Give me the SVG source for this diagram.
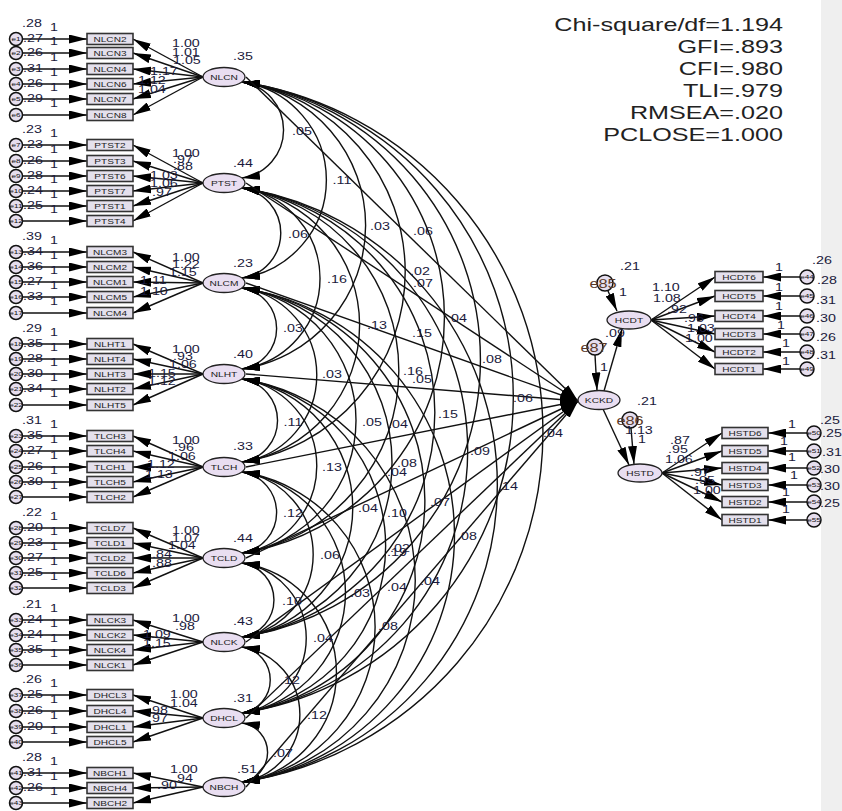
<svg xmlns="http://www.w3.org/2000/svg" width="842" height="811" viewBox="0 0 842 811">
<style>
.b{fill:#e4e0ec;stroke:#333;stroke-width:1.6}
.c{fill:#e6deee;stroke:#111;stroke-width:1.5}
.f{fill:#e9def1;stroke:#222;stroke-width:1.3}
.ar{stroke:#111;stroke-width:1.4;fill:none;marker-end:url(#a)}
.cv{stroke:#111;stroke-width:1.4;fill:none;marker-start:url(#a);marker-end:url(#a)}
.n{font:10.5px "Liberation Sans",Arial,sans-serif;fill:#1a1a3c}
.m{font:10.5px "Liberation Sans",Arial,sans-serif;fill:#1a1a3c;text-anchor:middle}
.bt{font:7.4px "Liberation Sans",Arial,sans-serif;fill:#222;text-anchor:middle}
.ct{font:6px "Liberation Sans",Arial,sans-serif;fill:#111;text-anchor:middle}
.ft{font:7.5px "Liberation Sans",Arial,sans-serif;fill:#222;text-anchor:middle}
.dt{font:12px "Liberation Sans",Arial,sans-serif;fill:#5a3a2a;text-anchor:middle}
.st{font:18.5px "Liberation Sans",Arial,sans-serif;fill:#222;text-anchor:end}
</style>
<defs>
<marker id="a" viewBox="0 0 18 9" refX="18" refY="4.5" markerWidth="18" markerHeight="9" markerUnits="userSpaceOnUse" orient="auto-start-reverse"><path d="M0,0L18,4.5L0,9z" fill="#000"/></marker>
</defs>
<rect x="821" y="0" width="21" height="811" fill="#efefef"/>
<g id="connectors">
<line class="ar" x1="22.5" y1="39" x2="87" y2="39"/><line class="ar" x1="22.5" y1="53" x2="87" y2="53"/><line class="ar" x1="22.5" y1="69" x2="87" y2="69"/><line class="ar" x1="22.5" y1="84" x2="87" y2="84"/><line class="ar" x1="22.5" y1="99" x2="87" y2="99"/><line class="ar" x1="22.5" y1="115" x2="87" y2="115"/>
<line class="ar" x1="22.5" y1="145" x2="87" y2="145"/><line class="ar" x1="22.5" y1="161" x2="87" y2="161"/><line class="ar" x1="22.5" y1="176" x2="87" y2="176"/><line class="ar" x1="22.5" y1="191" x2="87" y2="191"/><line class="ar" x1="22.5" y1="206" x2="87" y2="206"/><line class="ar" x1="22.5" y1="221" x2="87" y2="221"/>
<line class="ar" x1="22.5" y1="252" x2="87" y2="252"/><line class="ar" x1="22.5" y1="267" x2="87" y2="267"/><line class="ar" x1="22.5" y1="282" x2="87" y2="282"/><line class="ar" x1="22.5" y1="297" x2="87" y2="297"/><line class="ar" x1="22.5" y1="313" x2="87" y2="313"/>
<line class="ar" x1="22.5" y1="344" x2="87" y2="344"/><line class="ar" x1="22.5" y1="359" x2="87" y2="359"/><line class="ar" x1="22.5" y1="374" x2="87" y2="374"/><line class="ar" x1="22.5" y1="389" x2="87" y2="389"/><line class="ar" x1="22.5" y1="405" x2="87" y2="405"/>
<line class="ar" x1="22.5" y1="436" x2="87" y2="436"/><line class="ar" x1="22.5" y1="451" x2="87" y2="451"/><line class="ar" x1="22.5" y1="467" x2="87" y2="467"/><line class="ar" x1="22.5" y1="482" x2="87" y2="482"/><line class="ar" x1="22.5" y1="497" x2="87" y2="497"/>
<line class="ar" x1="22.5" y1="528" x2="87" y2="528"/><line class="ar" x1="22.5" y1="543" x2="87" y2="543"/><line class="ar" x1="22.5" y1="558" x2="87" y2="558"/><line class="ar" x1="22.5" y1="573" x2="87" y2="573"/><line class="ar" x1="22.5" y1="588" x2="87" y2="588"/>
<line class="ar" x1="22.5" y1="620" x2="87" y2="620"/><line class="ar" x1="22.5" y1="635" x2="87" y2="635"/><line class="ar" x1="22.5" y1="650" x2="87" y2="650"/><line class="ar" x1="22.5" y1="665" x2="87" y2="665"/>
<line class="ar" x1="22.5" y1="695" x2="87" y2="695"/><line class="ar" x1="22.5" y1="711" x2="87" y2="711"/><line class="ar" x1="22.5" y1="727" x2="87" y2="727"/><line class="ar" x1="22.5" y1="742" x2="87" y2="742"/>
<line class="ar" x1="22.5" y1="773" x2="87" y2="773"/><line class="ar" x1="22.5" y1="788" x2="87" y2="788"/><line class="ar" x1="22.5" y1="803" x2="87" y2="803"/>
<line class="ar" x1="203" y1="77" x2="133" y2="39"/><line class="ar" x1="203" y1="77" x2="133" y2="53"/><line class="ar" x1="203" y1="77" x2="133" y2="69"/><line class="ar" x1="203" y1="77" x2="133" y2="84"/><line class="ar" x1="203" y1="77" x2="133" y2="99"/><line class="ar" x1="203" y1="77" x2="133" y2="115"/>
<line class="ar" x1="203" y1="183" x2="133" y2="145"/><line class="ar" x1="203" y1="183" x2="133" y2="161"/><line class="ar" x1="203" y1="183" x2="133" y2="176"/><line class="ar" x1="203" y1="183" x2="133" y2="191"/><line class="ar" x1="203" y1="183" x2="133" y2="206"/><line class="ar" x1="203" y1="183" x2="133" y2="221"/>
<line class="ar" x1="203" y1="283" x2="133" y2="252"/><line class="ar" x1="203" y1="283" x2="133" y2="267"/><line class="ar" x1="203" y1="283" x2="133" y2="282"/><line class="ar" x1="203" y1="283" x2="133" y2="297"/><line class="ar" x1="203" y1="283" x2="133" y2="313"/>
<line class="ar" x1="203" y1="374" x2="133" y2="344"/><line class="ar" x1="203" y1="374" x2="133" y2="359"/><line class="ar" x1="203" y1="374" x2="133" y2="374"/><line class="ar" x1="203" y1="374" x2="133" y2="389"/><line class="ar" x1="203" y1="374" x2="133" y2="405"/>
<line class="ar" x1="203" y1="467" x2="133" y2="436"/><line class="ar" x1="203" y1="467" x2="133" y2="451"/><line class="ar" x1="203" y1="467" x2="133" y2="467"/><line class="ar" x1="203" y1="467" x2="133" y2="482"/><line class="ar" x1="203" y1="467" x2="133" y2="497"/>
<line class="ar" x1="203" y1="558" x2="133" y2="528"/><line class="ar" x1="203" y1="558" x2="133" y2="543"/><line class="ar" x1="203" y1="558" x2="133" y2="558"/><line class="ar" x1="203" y1="558" x2="133" y2="573"/><line class="ar" x1="203" y1="558" x2="133" y2="588"/>
<line class="ar" x1="203" y1="642" x2="133" y2="620"/><line class="ar" x1="203" y1="642" x2="133" y2="635"/><line class="ar" x1="203" y1="642" x2="133" y2="650"/><line class="ar" x1="203" y1="642" x2="133" y2="665"/>
<line class="ar" x1="203" y1="718" x2="133" y2="695"/><line class="ar" x1="203" y1="718" x2="133" y2="711"/><line class="ar" x1="203" y1="718" x2="133" y2="727"/><line class="ar" x1="203" y1="718" x2="133" y2="742"/>
<line class="ar" x1="203" y1="787" x2="133" y2="773"/><line class="ar" x1="203" y1="787" x2="133" y2="788"/><line class="ar" x1="203" y1="787" x2="133" y2="803"/>
<path class="cv" d="M242,82A48.5,48.5 0 0 1 242,178"/>
<path class="cv" d="M242,82A99.1,99.1 0 0 1 242,278"/>
<path class="cv" d="M242,82A145.1,145.1 0 0 1 242,369"/>
<path class="cv" d="M242,82A192.2,192.2 0 0 1 242,462"/>
<path class="cv" d="M242,82A238.2,238.2 0 0 1 242,553"/>
<path class="cv" d="M242,82A280.7,280.7 0 0 1 242,637"/>
<path class="cv" d="M242,82A319.1,319.1 0 0 1 242,713"/>
<path class="cv" d="M242,82A354,354 0 0 1 242,782"/>
<path class="cv" d="M242,188A45.5,45.5 0 0 1 242,278"/>
<path class="cv" d="M242,188A91.5,91.5 0 0 1 242,369"/>
<path class="cv" d="M242,188A138.6,138.6 0 0 1 242,462"/>
<path class="cv" d="M242,188A184.6,184.6 0 0 1 242,553"/>
<path class="cv" d="M242,188A227.1,227.1 0 0 1 242,637"/>
<path class="cv" d="M242,188A265.5,265.5 0 0 1 242,713"/>
<path class="cv" d="M242,188A300.4,300.4 0 0 1 242,782"/>
<path class="cv" d="M242,288A41,41 0 0 1 242,369"/>
<path class="cv" d="M242,288A88,88 0 0 1 242,462"/>
<path class="cv" d="M242,288A134,134 0 0 1 242,553"/>
<path class="cv" d="M242,288A176.5,176.5 0 0 1 242,637"/>
<path class="cv" d="M242,288A214.9,214.9 0 0 1 242,713"/>
<path class="cv" d="M242,288A249.8,249.8 0 0 1 242,782"/>
<path class="cv" d="M242,379A42,42 0 0 1 242,462"/>
<path class="cv" d="M242,379A88,88 0 0 1 242,553"/>
<path class="cv" d="M242,379A130.5,130.5 0 0 1 242,637"/>
<path class="cv" d="M242,379A168.9,168.9 0 0 1 242,713"/>
<path class="cv" d="M242,379A203.8,203.8 0 0 1 242,782"/>
<path class="cv" d="M242,472A41,41 0 0 1 242,553"/>
<path class="cv" d="M242,472A83.4,83.4 0 0 1 242,637"/>
<path class="cv" d="M242,472A121.9,121.9 0 0 1 242,713"/>
<path class="cv" d="M242,472A156.8,156.8 0 0 1 242,782"/>
<path class="cv" d="M242,563A37.4,37.4 0 0 1 242,637"/>
<path class="cv" d="M242,563A75.9,75.9 0 0 1 242,713"/>
<path class="cv" d="M242,563A110.7,110.7 0 0 1 242,782"/>
<path class="cv" d="M242,647A33.4,33.4 0 0 1 242,713"/>
<path class="cv" d="M242,647A68.3,68.3 0 0 1 242,782"/>
<path class="cv" d="M242,723A29.8,29.8 0 0 1 242,782"/>
<line class="ar" x1="246" y1="77" x2="578" y2="401"/>
<line class="ar" x1="246" y1="183" x2="578" y2="401"/>
<line class="ar" x1="246" y1="283" x2="578" y2="401"/>
<line class="ar" x1="246" y1="374" x2="578" y2="401"/>
<line class="ar" x1="246" y1="467" x2="578" y2="401"/>
<line class="ar" x1="246" y1="558" x2="578" y2="401"/>
<line class="ar" x1="246" y1="642" x2="578" y2="401"/>
<line class="ar" x1="246" y1="718" x2="578" y2="401"/>
<line class="ar" x1="246" y1="787" x2="578" y2="401"/>
<line class="ar" x1="608" y1="291" x2="617" y2="311"/>
<line class="ar" x1="595" y1="355" x2="597" y2="390.5"/>
<line class="ar" x1="604" y1="391" x2="622" y2="329"/>
<line class="ar" x1="603" y1="409" x2="629" y2="465"/>
<line class="ar" x1="631" y1="428" x2="634" y2="464"/>
<line class="ar" x1="651" y1="320" x2="715" y2="277"/><line class="ar" x1="651" y1="320" x2="715" y2="296"/><line class="ar" x1="651" y1="320" x2="715" y2="316"/><line class="ar" x1="651" y1="320" x2="715" y2="334"/><line class="ar" x1="651" y1="320" x2="715" y2="352"/><line class="ar" x1="651" y1="320" x2="715" y2="369"/>
<line class="ar" x1="800" y1="277" x2="763" y2="277"/><line class="ar" x1="800" y1="296" x2="763" y2="296"/><line class="ar" x1="800" y1="316" x2="763" y2="316"/><line class="ar" x1="800" y1="334" x2="763" y2="334"/><line class="ar" x1="800" y1="352" x2="763" y2="352"/><line class="ar" x1="800" y1="369" x2="763" y2="369"/>
<line class="ar" x1="662" y1="473" x2="722" y2="433"/><line class="ar" x1="662" y1="473" x2="722" y2="451"/><line class="ar" x1="662" y1="473" x2="722" y2="468"/><line class="ar" x1="662" y1="473" x2="722" y2="485"/><line class="ar" x1="662" y1="473" x2="722" y2="502"/><line class="ar" x1="662" y1="473" x2="722" y2="520"/>
<line class="ar" x1="807" y1="433" x2="768" y2="433"/><line class="ar" x1="807" y1="451" x2="768" y2="451"/><line class="ar" x1="807" y1="468" x2="768" y2="468"/><line class="ar" x1="807" y1="485" x2="768" y2="485"/><line class="ar" x1="807" y1="502" x2="768" y2="502"/><line class="ar" x1="807" y1="520" x2="768" y2="520"/>
</g>
<g id="NLCN"><ellipse class="f" cx="224" cy="77" rx="21" ry="9.5"/><text class="ft" transform="matrix(1.36 0 0 1 224 79.7)">NLCN</text></g>
<g id="PTST"><ellipse class="f" cx="224" cy="183" rx="21" ry="9.5"/><text class="ft" transform="matrix(1.36 0 0 1 224 185.7)">PTST</text></g>
<g id="NLCM"><ellipse class="f" cx="224" cy="283" rx="21" ry="9.5"/><text class="ft" transform="matrix(1.36 0 0 1 224 285.7)">NLCM</text></g>
<g id="NLHT"><ellipse class="f" cx="224" cy="374" rx="21" ry="9.5"/><text class="ft" transform="matrix(1.36 0 0 1 224 376.7)">NLHT</text></g>
<g id="TLCH"><ellipse class="f" cx="224" cy="467" rx="21" ry="9.5"/><text class="ft" transform="matrix(1.36 0 0 1 224 469.7)">TLCH</text></g>
<g id="TCLD"><ellipse class="f" cx="224" cy="558" rx="21" ry="9.5"/><text class="ft" transform="matrix(1.36 0 0 1 224 560.7)">TCLD</text></g>
<g id="NLCK"><ellipse class="f" cx="224" cy="642" rx="21" ry="9.5"/><text class="ft" transform="matrix(1.36 0 0 1 224 644.7)">NLCK</text></g>
<g id="DHCL"><ellipse class="f" cx="224" cy="718" rx="21" ry="9.5"/><text class="ft" transform="matrix(1.36 0 0 1 224 720.7)">DHCL</text></g>
<g id="NBCH"><ellipse class="f" cx="224" cy="787" rx="21" ry="9.5"/><text class="ft" transform="matrix(1.36 0 0 1 224 789.7)">NBCH</text></g>
<g id="KCKD"><ellipse class="f" cx="599" cy="400" rx="21" ry="9.5"/><text class="ft" transform="matrix(1.36 0 0 1 599 402.7)">KCKD</text></g>
<g id="HCDT"><ellipse class="f" cx="629" cy="320" rx="22" ry="9"/><text class="ft" transform="matrix(1.36 0 0 1 629 322.7)">HCDT</text></g>
<g id="HSTD"><ellipse class="f" cx="640" cy="473" rx="22" ry="9"/><text class="ft" transform="matrix(1.36 0 0 1 640 475.7)">HSTD</text></g>
<g id="e85"><circle class="c" cx="605" cy="283" r="8"/><text class="dt" transform="matrix(1.36 0 0 1 603 288)">e85</text></g>
<g id="e87"><circle class="c" cx="595" cy="347" r="8"/><text class="dt" transform="matrix(1.36 0 0 1 594 352)">e87</text></g>
<g id="e86"><circle class="c" cx="630" cy="420" r="8"/><text class="dt" transform="matrix(1.36 0 0 1 630 425)">e86</text></g>
<g id="NLCN2"><rect class="b" x="87" y="33.5" width="46" height="11"/><text class="bt" transform="matrix(1.36 0 0 1 110 41.5)">NLCN2</text></g>
<g id="NLCN3"><rect class="b" x="87" y="47.5" width="46" height="11"/><text class="bt" transform="matrix(1.36 0 0 1 110 55.5)">NLCN3</text></g>
<g id="NLCN4"><rect class="b" x="87" y="63.5" width="46" height="11"/><text class="bt" transform="matrix(1.36 0 0 1 110 71.5)">NLCN4</text></g>
<g id="NLCN6"><rect class="b" x="87" y="78.5" width="46" height="11"/><text class="bt" transform="matrix(1.36 0 0 1 110 86.5)">NLCN6</text></g>
<g id="NLCN7"><rect class="b" x="87" y="93.5" width="46" height="11"/><text class="bt" transform="matrix(1.36 0 0 1 110 101.5)">NLCN7</text></g>
<g id="NLCN8"><rect class="b" x="87" y="109.5" width="46" height="11"/><text class="bt" transform="matrix(1.36 0 0 1 110 117.5)">NLCN8</text></g>
<g id="PTST2"><rect class="b" x="87" y="139.5" width="46" height="11"/><text class="bt" transform="matrix(1.36 0 0 1 110 147.5)">PTST2</text></g>
<g id="PTST3"><rect class="b" x="87" y="155.5" width="46" height="11"/><text class="bt" transform="matrix(1.36 0 0 1 110 163.5)">PTST3</text></g>
<g id="PTST6"><rect class="b" x="87" y="170.5" width="46" height="11"/><text class="bt" transform="matrix(1.36 0 0 1 110 178.5)">PTST6</text></g>
<g id="PTST7"><rect class="b" x="87" y="185.5" width="46" height="11"/><text class="bt" transform="matrix(1.36 0 0 1 110 193.5)">PTST7</text></g>
<g id="PTST1"><rect class="b" x="87" y="200.5" width="46" height="11"/><text class="bt" transform="matrix(1.36 0 0 1 110 208.5)">PTST1</text></g>
<g id="PTST4"><rect class="b" x="87" y="215.5" width="46" height="11"/><text class="bt" transform="matrix(1.36 0 0 1 110 223.5)">PTST4</text></g>
<g id="NLCM3"><rect class="b" x="87" y="246.5" width="46" height="11"/><text class="bt" transform="matrix(1.36 0 0 1 110 254.5)">NLCM3</text></g>
<g id="NLCM2"><rect class="b" x="87" y="261.5" width="46" height="11"/><text class="bt" transform="matrix(1.36 0 0 1 110 269.5)">NLCM2</text></g>
<g id="NLCM1"><rect class="b" x="87" y="276.5" width="46" height="11"/><text class="bt" transform="matrix(1.36 0 0 1 110 284.5)">NLCM1</text></g>
<g id="NLCM5"><rect class="b" x="87" y="291.5" width="46" height="11"/><text class="bt" transform="matrix(1.36 0 0 1 110 299.5)">NLCM5</text></g>
<g id="NLCM4"><rect class="b" x="87" y="307.5" width="46" height="11"/><text class="bt" transform="matrix(1.36 0 0 1 110 315.5)">NLCM4</text></g>
<g id="NLHT1"><rect class="b" x="87" y="338.5" width="46" height="11"/><text class="bt" transform="matrix(1.36 0 0 1 110 346.5)">NLHT1</text></g>
<g id="NLHT4"><rect class="b" x="87" y="353.5" width="46" height="11"/><text class="bt" transform="matrix(1.36 0 0 1 110 361.5)">NLHT4</text></g>
<g id="NLHT3"><rect class="b" x="87" y="368.5" width="46" height="11"/><text class="bt" transform="matrix(1.36 0 0 1 110 376.5)">NLHT3</text></g>
<g id="NLHT2"><rect class="b" x="87" y="383.5" width="46" height="11"/><text class="bt" transform="matrix(1.36 0 0 1 110 391.5)">NLHT2</text></g>
<g id="NLHT5"><rect class="b" x="87" y="399.5" width="46" height="11"/><text class="bt" transform="matrix(1.36 0 0 1 110 407.5)">NLHT5</text></g>
<g id="TLCH3"><rect class="b" x="87" y="430.5" width="46" height="11"/><text class="bt" transform="matrix(1.36 0 0 1 110 438.5)">TLCH3</text></g>
<g id="TLCH4"><rect class="b" x="87" y="445.5" width="46" height="11"/><text class="bt" transform="matrix(1.36 0 0 1 110 453.5)">TLCH4</text></g>
<g id="TLCH1"><rect class="b" x="87" y="461.5" width="46" height="11"/><text class="bt" transform="matrix(1.36 0 0 1 110 469.5)">TLCH1</text></g>
<g id="TLCH5"><rect class="b" x="87" y="476.5" width="46" height="11"/><text class="bt" transform="matrix(1.36 0 0 1 110 484.5)">TLCH5</text></g>
<g id="TLCH2"><rect class="b" x="87" y="491.5" width="46" height="11"/><text class="bt" transform="matrix(1.36 0 0 1 110 499.5)">TLCH2</text></g>
<g id="TCLD7"><rect class="b" x="87" y="522.5" width="46" height="11"/><text class="bt" transform="matrix(1.36 0 0 1 110 530.5)">TCLD7</text></g>
<g id="TCLD1"><rect class="b" x="87" y="537.5" width="46" height="11"/><text class="bt" transform="matrix(1.36 0 0 1 110 545.5)">TCLD1</text></g>
<g id="TCLD2"><rect class="b" x="87" y="552.5" width="46" height="11"/><text class="bt" transform="matrix(1.36 0 0 1 110 560.5)">TCLD2</text></g>
<g id="TCLD6"><rect class="b" x="87" y="567.5" width="46" height="11"/><text class="bt" transform="matrix(1.36 0 0 1 110 575.5)">TCLD6</text></g>
<g id="TCLD3"><rect class="b" x="87" y="582.5" width="46" height="11"/><text class="bt" transform="matrix(1.36 0 0 1 110 590.5)">TCLD3</text></g>
<g id="NLCK3"><rect class="b" x="87" y="614.5" width="46" height="11"/><text class="bt" transform="matrix(1.36 0 0 1 110 622.5)">NLCK3</text></g>
<g id="NLCK2"><rect class="b" x="87" y="629.5" width="46" height="11"/><text class="bt" transform="matrix(1.36 0 0 1 110 637.5)">NLCK2</text></g>
<g id="NLCK4"><rect class="b" x="87" y="644.5" width="46" height="11"/><text class="bt" transform="matrix(1.36 0 0 1 110 652.5)">NLCK4</text></g>
<g id="NLCK1"><rect class="b" x="87" y="659.5" width="46" height="11"/><text class="bt" transform="matrix(1.36 0 0 1 110 667.5)">NLCK1</text></g>
<g id="DHCL3"><rect class="b" x="87" y="689.5" width="46" height="11"/><text class="bt" transform="matrix(1.36 0 0 1 110 697.5)">DHCL3</text></g>
<g id="DHCL4"><rect class="b" x="87" y="705.5" width="46" height="11"/><text class="bt" transform="matrix(1.36 0 0 1 110 713.5)">DHCL4</text></g>
<g id="DHCL1"><rect class="b" x="87" y="721.5" width="46" height="11"/><text class="bt" transform="matrix(1.36 0 0 1 110 729.5)">DHCL1</text></g>
<g id="DHCL5"><rect class="b" x="87" y="736.5" width="46" height="11"/><text class="bt" transform="matrix(1.36 0 0 1 110 744.5)">DHCL5</text></g>
<g id="NBCH1"><rect class="b" x="87" y="767.5" width="46" height="11"/><text class="bt" transform="matrix(1.36 0 0 1 110 775.5)">NBCH1</text></g>
<g id="NBCH4"><rect class="b" x="87" y="782.5" width="46" height="11"/><text class="bt" transform="matrix(1.36 0 0 1 110 790.5)">NBCH4</text></g>
<g id="NBCH2"><rect class="b" x="87" y="797.5" width="46" height="11"/><text class="bt" transform="matrix(1.36 0 0 1 110 805.5)">NBCH2</text></g>
<g id="e1"><circle class="c" cx="16" cy="39" r="6.5"/><text class="ct" transform="matrix(1.36 0 0 1 16 41.2)">e1</text></g>
<g id="e2"><circle class="c" cx="16" cy="53" r="6.5"/><text class="ct" transform="matrix(1.36 0 0 1 16 55.2)">e2</text></g>
<g id="e3"><circle class="c" cx="16" cy="69" r="6.5"/><text class="ct" transform="matrix(1.36 0 0 1 16 71.2)">e3</text></g>
<g id="e4"><circle class="c" cx="16" cy="84" r="6.5"/><text class="ct" transform="matrix(1.36 0 0 1 16 86.2)">e4</text></g>
<g id="e5"><circle class="c" cx="16" cy="99" r="6.5"/><text class="ct" transform="matrix(1.36 0 0 1 16 101.2)">e5</text></g>
<g id="e6"><circle class="c" cx="16" cy="115" r="6.5"/><text class="ct" transform="matrix(1.36 0 0 1 16 117.2)">e6</text></g>
<g id="e7"><circle class="c" cx="16" cy="145" r="6.5"/><text class="ct" transform="matrix(1.36 0 0 1 16 147.2)">e7</text></g>
<g id="e8"><circle class="c" cx="16" cy="161" r="6.5"/><text class="ct" transform="matrix(1.36 0 0 1 16 163.2)">e8</text></g>
<g id="e9"><circle class="c" cx="16" cy="176" r="6.5"/><text class="ct" transform="matrix(1.36 0 0 1 16 178.2)">e9</text></g>
<g id="e10"><circle class="c" cx="16" cy="191" r="6.5"/><text class="ct" transform="matrix(1.36 0 0 1 16 193.2)">e10</text></g>
<g id="e11"><circle class="c" cx="16" cy="206" r="6.5"/><text class="ct" transform="matrix(1.36 0 0 1 16 208.2)">e11</text></g>
<g id="e12"><circle class="c" cx="16" cy="221" r="6.5"/><text class="ct" transform="matrix(1.36 0 0 1 16 223.2)">e12</text></g>
<g id="e13"><circle class="c" cx="16" cy="252" r="6.5"/><text class="ct" transform="matrix(1.36 0 0 1 16 254.2)">e13</text></g>
<g id="e14"><circle class="c" cx="16" cy="267" r="6.5"/><text class="ct" transform="matrix(1.36 0 0 1 16 269.2)">e14</text></g>
<g id="e15"><circle class="c" cx="16" cy="282" r="6.5"/><text class="ct" transform="matrix(1.36 0 0 1 16 284.2)">e15</text></g>
<g id="e16"><circle class="c" cx="16" cy="297" r="6.5"/><text class="ct" transform="matrix(1.36 0 0 1 16 299.2)">e16</text></g>
<g id="e17"><circle class="c" cx="16" cy="313" r="6.5"/><text class="ct" transform="matrix(1.36 0 0 1 16 315.2)">e17</text></g>
<g id="e18"><circle class="c" cx="16" cy="344" r="6.5"/><text class="ct" transform="matrix(1.36 0 0 1 16 346.2)">e18</text></g>
<g id="e19"><circle class="c" cx="16" cy="359" r="6.5"/><text class="ct" transform="matrix(1.36 0 0 1 16 361.2)">e19</text></g>
<g id="e20"><circle class="c" cx="16" cy="374" r="6.5"/><text class="ct" transform="matrix(1.36 0 0 1 16 376.2)">e20</text></g>
<g id="e21"><circle class="c" cx="16" cy="389" r="6.5"/><text class="ct" transform="matrix(1.36 0 0 1 16 391.2)">e21</text></g>
<g id="e22"><circle class="c" cx="16" cy="405" r="6.5"/><text class="ct" transform="matrix(1.36 0 0 1 16 407.2)">e22</text></g>
<g id="e23"><circle class="c" cx="16" cy="436" r="6.5"/><text class="ct" transform="matrix(1.36 0 0 1 16 438.2)">e23</text></g>
<g id="e24"><circle class="c" cx="16" cy="451" r="6.5"/><text class="ct" transform="matrix(1.36 0 0 1 16 453.2)">e24</text></g>
<g id="e25"><circle class="c" cx="16" cy="467" r="6.5"/><text class="ct" transform="matrix(1.36 0 0 1 16 469.2)">e25</text></g>
<g id="e26"><circle class="c" cx="16" cy="482" r="6.5"/><text class="ct" transform="matrix(1.36 0 0 1 16 484.2)">e26</text></g>
<g id="e27"><circle class="c" cx="16" cy="497" r="6.5"/><text class="ct" transform="matrix(1.36 0 0 1 16 499.2)">e27</text></g>
<g id="e28"><circle class="c" cx="16" cy="528" r="6.5"/><text class="ct" transform="matrix(1.36 0 0 1 16 530.2)">e28</text></g>
<g id="e29"><circle class="c" cx="16" cy="543" r="6.5"/><text class="ct" transform="matrix(1.36 0 0 1 16 545.2)">e29</text></g>
<g id="e30"><circle class="c" cx="16" cy="558" r="6.5"/><text class="ct" transform="matrix(1.36 0 0 1 16 560.2)">e30</text></g>
<g id="e31"><circle class="c" cx="16" cy="573" r="6.5"/><text class="ct" transform="matrix(1.36 0 0 1 16 575.2)">e31</text></g>
<g id="e32"><circle class="c" cx="16" cy="588" r="6.5"/><text class="ct" transform="matrix(1.36 0 0 1 16 590.2)">e32</text></g>
<g id="e33"><circle class="c" cx="16" cy="620" r="6.5"/><text class="ct" transform="matrix(1.36 0 0 1 16 622.2)">e33</text></g>
<g id="e34"><circle class="c" cx="16" cy="635" r="6.5"/><text class="ct" transform="matrix(1.36 0 0 1 16 637.2)">e34</text></g>
<g id="e35"><circle class="c" cx="16" cy="650" r="6.5"/><text class="ct" transform="matrix(1.36 0 0 1 16 652.2)">e35</text></g>
<g id="e36"><circle class="c" cx="16" cy="665" r="6.5"/><text class="ct" transform="matrix(1.36 0 0 1 16 667.2)">e36</text></g>
<g id="e37"><circle class="c" cx="16" cy="695" r="6.5"/><text class="ct" transform="matrix(1.36 0 0 1 16 697.2)">e37</text></g>
<g id="e38"><circle class="c" cx="16" cy="711" r="6.5"/><text class="ct" transform="matrix(1.36 0 0 1 16 713.2)">e38</text></g>
<g id="e39"><circle class="c" cx="16" cy="727" r="6.5"/><text class="ct" transform="matrix(1.36 0 0 1 16 729.2)">e39</text></g>
<g id="e40"><circle class="c" cx="16" cy="742" r="6.5"/><text class="ct" transform="matrix(1.36 0 0 1 16 744.2)">e40</text></g>
<g id="e41"><circle class="c" cx="16" cy="773" r="6.5"/><text class="ct" transform="matrix(1.36 0 0 1 16 775.2)">e41</text></g>
<g id="e42"><circle class="c" cx="16" cy="788" r="6.5"/><text class="ct" transform="matrix(1.36 0 0 1 16 790.2)">e42</text></g>
<g id="e43"><circle class="c" cx="16" cy="803" r="6.5"/><text class="ct" transform="matrix(1.36 0 0 1 16 805.2)">e43</text></g>
<g id="HCDT6"><rect class="b" x="715" y="271.5" width="48" height="11"/><text class="bt" transform="matrix(1.36 0 0 1 739 279.5)">HCDT6</text></g>
<g id="HCDT5"><rect class="b" x="715" y="290.5" width="48" height="11"/><text class="bt" transform="matrix(1.36 0 0 1 739 298.5)">HCDT5</text></g>
<g id="HCDT4"><rect class="b" x="715" y="310.5" width="48" height="11"/><text class="bt" transform="matrix(1.36 0 0 1 739 318.5)">HCDT4</text></g>
<g id="HCDT3"><rect class="b" x="715" y="328.5" width="48" height="11"/><text class="bt" transform="matrix(1.36 0 0 1 739 336.5)">HCDT3</text></g>
<g id="HCDT2"><rect class="b" x="715" y="346.5" width="48" height="11"/><text class="bt" transform="matrix(1.36 0 0 1 739 354.5)">HCDT2</text></g>
<g id="HCDT1"><rect class="b" x="715" y="363.5" width="48" height="11"/><text class="bt" transform="matrix(1.36 0 0 1 739 371.5)">HCDT1</text></g>
<g id="HSTD6"><rect class="b" x="722" y="427.5" width="46" height="11"/><text class="bt" transform="matrix(1.36 0 0 1 745 435.5)">HSTD6</text></g>
<g id="HSTD5"><rect class="b" x="722" y="445.5" width="46" height="11"/><text class="bt" transform="matrix(1.36 0 0 1 745 453.5)">HSTD5</text></g>
<g id="HSTD4"><rect class="b" x="722" y="462.5" width="46" height="11"/><text class="bt" transform="matrix(1.36 0 0 1 745 470.5)">HSTD4</text></g>
<g id="HSTD3"><rect class="b" x="722" y="479.5" width="46" height="11"/><text class="bt" transform="matrix(1.36 0 0 1 745 487.5)">HSTD3</text></g>
<g id="HSTD2"><rect class="b" x="722" y="496.5" width="46" height="11"/><text class="bt" transform="matrix(1.36 0 0 1 745 504.5)">HSTD2</text></g>
<g id="HSTD1"><rect class="b" x="722" y="514.5" width="46" height="11"/><text class="bt" transform="matrix(1.36 0 0 1 745 522.5)">HSTD1</text></g>
<g id="e44"><circle class="c" cx="807" cy="277" r="7"/><text class="ct" transform="matrix(1.36 0 0 1 807 279.2)">e44</text></g>
<g id="e45"><circle class="c" cx="807" cy="296" r="7"/><text class="ct" transform="matrix(1.36 0 0 1 807 298.2)">e45</text></g>
<g id="e46"><circle class="c" cx="807" cy="316" r="7"/><text class="ct" transform="matrix(1.36 0 0 1 807 318.2)">e46</text></g>
<g id="e47"><circle class="c" cx="807" cy="334" r="7"/><text class="ct" transform="matrix(1.36 0 0 1 807 336.2)">e47</text></g>
<g id="e48"><circle class="c" cx="807" cy="352" r="7"/><text class="ct" transform="matrix(1.36 0 0 1 807 354.2)">e48</text></g>
<g id="e49"><circle class="c" cx="807" cy="369" r="7"/><text class="ct" transform="matrix(1.36 0 0 1 807 371.2)">e49</text></g>
<g id="e50"><circle class="c" cx="814" cy="433" r="7"/><text class="ct" transform="matrix(1.36 0 0 1 814 435.2)">e50</text></g>
<g id="e51"><circle class="c" cx="814" cy="451" r="7"/><text class="ct" transform="matrix(1.36 0 0 1 814 453.2)">e51</text></g>
<g id="e52"><circle class="c" cx="814" cy="468" r="7"/><text class="ct" transform="matrix(1.36 0 0 1 814 470.2)">e52</text></g>
<g id="e53"><circle class="c" cx="814" cy="485" r="7"/><text class="ct" transform="matrix(1.36 0 0 1 814 487.2)">e53</text></g>
<g id="e54"><circle class="c" cx="814" cy="502" r="7"/><text class="ct" transform="matrix(1.36 0 0 1 814 504.2)">e54</text></g>
<g id="e55"><circle class="c" cx="814" cy="520" r="7"/><text class="ct" transform="matrix(1.36 0 0 1 814 522.2)">e55</text></g>
<g id="labels">
<text class="n" transform="matrix(1.36 0 0 1 233 60)">.35</text>
<text class="n" transform="matrix(1.36 0 0 1 233 167)">.44</text>
<text class="n" transform="matrix(1.36 0 0 1 233 267)">.23</text>
<text class="n" transform="matrix(1.36 0 0 1 233 358)">.40</text>
<text class="n" transform="matrix(1.36 0 0 1 233 450)">.33</text>
<text class="n" transform="matrix(1.36 0 0 1 233 542)">.44</text>
<text class="n" transform="matrix(1.36 0 0 1 233 625)">.43</text>
<text class="n" transform="matrix(1.36 0 0 1 233 702)">.31</text>
<text class="n" transform="matrix(1.36 0 0 1 237 773)">.51</text>
<text class="n" transform="matrix(1.36 0 0 1 22 27)">.28</text>
<text class="n" transform="matrix(1.36 0 0 1 23 42)">.27</text><text class="n" transform="matrix(1.36 0 0 1 23 56)">.26</text><text class="n" transform="matrix(1.36 0 0 1 23 72)">.31</text><text class="n" transform="matrix(1.36 0 0 1 23 87)">.26</text><text class="n" transform="matrix(1.36 0 0 1 23 102)">.29</text>
<text class="n" transform="matrix(1.36 0 0 1 22 133)">.23</text>
<text class="n" transform="matrix(1.36 0 0 1 23 148)">.23</text><text class="n" transform="matrix(1.36 0 0 1 23 164)">.26</text><text class="n" transform="matrix(1.36 0 0 1 23 179)">.28</text><text class="n" transform="matrix(1.36 0 0 1 23 194)">.24</text><text class="n" transform="matrix(1.36 0 0 1 23 209)">.25</text>
<text class="n" transform="matrix(1.36 0 0 1 22 240)">.39</text>
<text class="n" transform="matrix(1.36 0 0 1 23 255)">.34</text><text class="n" transform="matrix(1.36 0 0 1 23 270)">.36</text><text class="n" transform="matrix(1.36 0 0 1 23 285)">.27</text><text class="n" transform="matrix(1.36 0 0 1 23 300)">.33</text>
<text class="n" transform="matrix(1.36 0 0 1 22 332)">.29</text>
<text class="n" transform="matrix(1.36 0 0 1 23 347)">.35</text><text class="n" transform="matrix(1.36 0 0 1 23 362)">.28</text><text class="n" transform="matrix(1.36 0 0 1 23 377)">.30</text><text class="n" transform="matrix(1.36 0 0 1 23 392)">.34</text>
<text class="n" transform="matrix(1.36 0 0 1 22 424)">.31</text>
<text class="n" transform="matrix(1.36 0 0 1 23 439)">.35</text><text class="n" transform="matrix(1.36 0 0 1 23 454)">.27</text><text class="n" transform="matrix(1.36 0 0 1 23 470)">.26</text><text class="n" transform="matrix(1.36 0 0 1 23 485)">.30</text>
<text class="n" transform="matrix(1.36 0 0 1 22 516)">.22</text>
<text class="n" transform="matrix(1.36 0 0 1 23 531)">.20</text><text class="n" transform="matrix(1.36 0 0 1 23 546)">.23</text><text class="n" transform="matrix(1.36 0 0 1 23 561)">.27</text><text class="n" transform="matrix(1.36 0 0 1 23 576)">.25</text>
<text class="n" transform="matrix(1.36 0 0 1 22 608)">.21</text>
<text class="n" transform="matrix(1.36 0 0 1 23 623)">.24</text><text class="n" transform="matrix(1.36 0 0 1 23 638)">.24</text><text class="n" transform="matrix(1.36 0 0 1 23 653)">.35</text>
<text class="n" transform="matrix(1.36 0 0 1 22 683)">.26</text>
<text class="n" transform="matrix(1.36 0 0 1 23 698)">.25</text><text class="n" transform="matrix(1.36 0 0 1 23 714)">.26</text><text class="n" transform="matrix(1.36 0 0 1 23 730)">.20</text>
<text class="n" transform="matrix(1.36 0 0 1 22 761)">.28</text>
<text class="n" transform="matrix(1.36 0 0 1 23 776)">.31</text><text class="n" transform="matrix(1.36 0 0 1 23 791)">.26</text>
<text class="n" transform="matrix(1.36 0 0 1 50 31)">1</text><text class="n" transform="matrix(1.36 0 0 1 50 45)">1</text><text class="n" transform="matrix(1.36 0 0 1 50 61)">1</text><text class="n" transform="matrix(1.36 0 0 1 50 76)">1</text><text class="n" transform="matrix(1.36 0 0 1 50 91)">1</text><text class="n" transform="matrix(1.36 0 0 1 50 107)">1</text>
<text class="n" transform="matrix(1.36 0 0 1 50 137)">1</text><text class="n" transform="matrix(1.36 0 0 1 50 153)">1</text><text class="n" transform="matrix(1.36 0 0 1 50 168)">1</text><text class="n" transform="matrix(1.36 0 0 1 50 183)">1</text><text class="n" transform="matrix(1.36 0 0 1 50 198)">1</text><text class="n" transform="matrix(1.36 0 0 1 50 213)">1</text>
<text class="n" transform="matrix(1.36 0 0 1 50 244)">1</text><text class="n" transform="matrix(1.36 0 0 1 50 259)">1</text><text class="n" transform="matrix(1.36 0 0 1 50 274)">1</text><text class="n" transform="matrix(1.36 0 0 1 50 289)">1</text><text class="n" transform="matrix(1.36 0 0 1 50 305)">1</text>
<text class="n" transform="matrix(1.36 0 0 1 50 336)">1</text><text class="n" transform="matrix(1.36 0 0 1 50 351)">1</text><text class="n" transform="matrix(1.36 0 0 1 50 366)">1</text><text class="n" transform="matrix(1.36 0 0 1 50 381)">1</text><text class="n" transform="matrix(1.36 0 0 1 50 397)">1</text>
<text class="n" transform="matrix(1.36 0 0 1 50 428)">1</text><text class="n" transform="matrix(1.36 0 0 1 50 443)">1</text><text class="n" transform="matrix(1.36 0 0 1 50 459)">1</text><text class="n" transform="matrix(1.36 0 0 1 50 474)">1</text><text class="n" transform="matrix(1.36 0 0 1 50 489)">1</text>
<text class="n" transform="matrix(1.36 0 0 1 50 520)">1</text><text class="n" transform="matrix(1.36 0 0 1 50 535)">1</text><text class="n" transform="matrix(1.36 0 0 1 50 550)">1</text><text class="n" transform="matrix(1.36 0 0 1 50 565)">1</text><text class="n" transform="matrix(1.36 0 0 1 50 580)">1</text>
<text class="n" transform="matrix(1.36 0 0 1 50 612)">1</text><text class="n" transform="matrix(1.36 0 0 1 50 627)">1</text><text class="n" transform="matrix(1.36 0 0 1 50 642)">1</text><text class="n" transform="matrix(1.36 0 0 1 50 657)">1</text>
<text class="n" transform="matrix(1.36 0 0 1 50 687)">1</text><text class="n" transform="matrix(1.36 0 0 1 50 703)">1</text><text class="n" transform="matrix(1.36 0 0 1 50 719)">1</text><text class="n" transform="matrix(1.36 0 0 1 50 734)">1</text>
<text class="n" transform="matrix(1.36 0 0 1 50 765)">1</text><text class="n" transform="matrix(1.36 0 0 1 50 780)">1</text><text class="n" transform="matrix(1.36 0 0 1 50 795)">1</text>
<text class="n" transform="matrix(1.36 0 0 1 172 47)">1.00</text><text class="n" transform="matrix(1.36 0 0 1 172 56)">1.01</text><text class="n" transform="matrix(1.36 0 0 1 173 64)">1.05</text><text class="n" transform="matrix(1.36 0 0 1 150 75)">1.17</text><text class="n" transform="matrix(1.36 0 0 1 138 84)">1.12</text><text class="n" transform="matrix(1.36 0 0 1 138 93)">1.04</text>
<text class="n" transform="matrix(1.36 0 0 1 172 157)">1.00</text><text class="n" transform="matrix(1.36 0 0 1 173 163)">.97</text><text class="n" transform="matrix(1.36 0 0 1 173 170)">.88</text><text class="n" transform="matrix(1.36 0 0 1 150 179)">1.03</text><text class="n" transform="matrix(1.36 0 0 1 150 187)">1.06</text><text class="n" transform="matrix(1.36 0 0 1 152 196)">.97</text>
<text class="n" transform="matrix(1.36 0 0 1 172 261)">1.00</text><text class="n" transform="matrix(1.36 0 0 1 172 268)">1.22</text><text class="n" transform="matrix(1.36 0 0 1 169 276)">1.15</text><text class="n" transform="matrix(1.36 0 0 1 140 284)">1.11</text><text class="n" transform="matrix(1.36 0 0 1 140 295)">1.10</text>
<text class="n" transform="matrix(1.36 0 0 1 172 353)">1.00</text><text class="n" transform="matrix(1.36 0 0 1 173 360)">.93</text><text class="n" transform="matrix(1.36 0 0 1 169 368)">1.06</text><text class="n" transform="matrix(1.36 0 0 1 148 377)">1.15</text><text class="n" transform="matrix(1.36 0 0 1 148 385)">1.12</text>
<text class="n" transform="matrix(1.36 0 0 1 172 444)">1.00</text><text class="n" transform="matrix(1.36 0 0 1 174 451)">.96</text><text class="n" transform="matrix(1.36 0 0 1 168 460)">1.06</text><text class="n" transform="matrix(1.36 0 0 1 147 468)">1.12</text><text class="n" transform="matrix(1.36 0 0 1 145 478)">1.13</text>
<text class="n" transform="matrix(1.36 0 0 1 172 534)">1.00</text><text class="n" transform="matrix(1.36 0 0 1 172 542)">1.07</text><text class="n" transform="matrix(1.36 0 0 1 168 549)">1.04</text><text class="n" transform="matrix(1.36 0 0 1 152 558)">.84</text><text class="n" transform="matrix(1.36 0 0 1 152 567)">.88</text>
<text class="n" transform="matrix(1.36 0 0 1 172 622)">1.00</text><text class="n" transform="matrix(1.36 0 0 1 175 630)">.98</text><text class="n" transform="matrix(1.36 0 0 1 143 638)">1.09</text><text class="n" transform="matrix(1.36 0 0 1 143 647)">1.15</text>
<text class="n" transform="matrix(1.36 0 0 1 170 698)">1.00</text><text class="n" transform="matrix(1.36 0 0 1 170 707)">1.04</text><text class="n" transform="matrix(1.36 0 0 1 148 714)">.98</text><text class="n" transform="matrix(1.36 0 0 1 148 722)">.97</text>
<text class="n" transform="matrix(1.36 0 0 1 170 773)">1.00</text><text class="n" transform="matrix(1.36 0 0 1 173 782)">.94</text><text class="n" transform="matrix(1.36 0 0 1 157 789)">.90</text>
<text class="m" transform="matrix(1.36 0 0 1 302 135)">.05</text>
<text class="m" transform="matrix(1.36 0 0 1 342 184)">.11</text>
<text class="m" transform="matrix(1.36 0 0 1 380 230)">.03</text>
<text class="m" transform="matrix(1.36 0 0 1 423 235)">.06</text>
<text class="m" transform="matrix(1.36 0 0 1 298 238)">.06</text>
<text class="m" transform="matrix(1.36 0 0 1 337 283)">.16</text>
<text class="m" transform="matrix(1.36 0 0 1 420 275)">.02</text>
<text class="m" transform="matrix(1.36 0 0 1 423 287)">.07</text>
<text class="m" transform="matrix(1.36 0 0 1 457 322)">.04</text>
<text class="m" transform="matrix(1.36 0 0 1 377 329)">.13</text>
<text class="m" transform="matrix(1.36 0 0 1 293 332)">.03</text>
<text class="m" transform="matrix(1.36 0 0 1 422 337)">.15</text>
<text class="m" transform="matrix(1.36 0 0 1 492 363)">.08</text>
<text class="m" transform="matrix(1.36 0 0 1 332 378)">.03</text>
<text class="m" transform="matrix(1.36 0 0 1 413 375)">.16</text>
<text class="m" transform="matrix(1.36 0 0 1 422 383)">.05</text>
<text class="m" transform="matrix(1.36 0 0 1 523 402)">.06</text>
<text class="m" transform="matrix(1.36 0 0 1 293 426)">.11</text>
<text class="m" transform="matrix(1.36 0 0 1 372 426)">.05</text>
<text class="m" transform="matrix(1.36 0 0 1 398 428)">.04</text>
<text class="m" transform="matrix(1.36 0 0 1 448 418)">.15</text>
<text class="m" transform="matrix(1.36 0 0 1 553 437)">.04</text>
<text class="m" transform="matrix(1.36 0 0 1 480 455)">.09</text>
<text class="m" transform="matrix(1.36 0 0 1 332 471)">.13</text>
<text class="m" transform="matrix(1.36 0 0 1 407 467)">.08</text>
<text class="m" transform="matrix(1.36 0 0 1 397 476)">.04</text>
<text class="m" transform="matrix(1.36 0 0 1 508 490)">.14</text>
<text class="m" transform="matrix(1.36 0 0 1 293 517)">.12</text>
<text class="m" transform="matrix(1.36 0 0 1 368 512)">.04</text>
<text class="m" transform="matrix(1.36 0 0 1 397 517)">.10</text>
<text class="m" transform="matrix(1.36 0 0 1 440 506)">.07</text>
<text class="m" transform="matrix(1.36 0 0 1 330 559)">.06</text>
<text class="m" transform="matrix(1.36 0 0 1 400 552)">.02</text>
<text class="m" transform="matrix(1.36 0 0 1 397 556)">.19</text>
<text class="m" transform="matrix(1.36 0 0 1 467 540)">.08</text>
<text class="m" transform="matrix(1.36 0 0 1 292 605)">.10</text>
<text class="m" transform="matrix(1.36 0 0 1 360 597)">.03</text>
<text class="m" transform="matrix(1.36 0 0 1 397 591)">.04</text>
<text class="m" transform="matrix(1.36 0 0 1 430 585)">.04</text>
<text class="m" transform="matrix(1.36 0 0 1 388 630)">.08</text>
<text class="m" transform="matrix(1.36 0 0 1 323 642)">.04</text>
<text class="m" transform="matrix(1.36 0 0 1 290 684)">.12</text>
<text class="m" transform="matrix(1.36 0 0 1 317 719)">.12</text>
<text class="m" transform="matrix(1.36 0 0 1 283 757)">.07</text>
<text class="n" transform="matrix(1.36 0 0 1 620 270)">.21</text>
<text class="n" transform="matrix(1.36 0 0 1 619 296)">1</text>
<text class="n" transform="matrix(1.36 0 0 1 605 337)">.09</text>
<text class="n" transform="matrix(1.36 0 0 1 600 371)">1</text>
<text class="n" transform="matrix(1.36 0 0 1 637 405)">.21</text>
<text class="n" transform="matrix(1.36 0 0 1 625 434)">1.13</text>
<text class="n" transform="matrix(1.36 0 0 1 638 443)">1</text>
<text class="n" transform="matrix(1.36 0 0 1 652 291)">1.10</text>
<text class="n" transform="matrix(1.36 0 0 1 653 302)">1.08</text>
<text class="n" transform="matrix(1.36 0 0 1 667 313)">.92</text>
<text class="n" transform="matrix(1.36 0 0 1 684 322)">.96</text>
<text class="n" transform="matrix(1.36 0 0 1 687 332)">1.03</text>
<text class="n" transform="matrix(1.36 0 0 1 685 342)">1.00</text>
<text class="n" transform="matrix(1.36 0 0 1 775 271)">1</text><text class="n" transform="matrix(1.36 0 0 1 775 291)">1</text><text class="n" transform="matrix(1.36 0 0 1 775 310)">1</text><text class="n" transform="matrix(1.36 0 0 1 777 329)">1</text><text class="n" transform="matrix(1.36 0 0 1 782 347)">1</text><text class="n" transform="matrix(1.36 0 0 1 782 365)">1</text>
<text class="n" transform="matrix(1.36 0 0 1 812 264)">.26</text><text class="n" transform="matrix(1.36 0 0 1 817 284)">.28</text><text class="n" transform="matrix(1.36 0 0 1 816 304)">.31</text><text class="n" transform="matrix(1.36 0 0 1 816 322)">.30</text><text class="n" transform="matrix(1.36 0 0 1 816 341)">.26</text><text class="n" transform="matrix(1.36 0 0 1 816 359)">.31</text>
<text class="n" transform="matrix(1.36 0 0 1 670 444)">.87</text>
<text class="n" transform="matrix(1.36 0 0 1 668 453)">.95</text>
<text class="n" transform="matrix(1.36 0 0 1 665 463)">1.06</text>
<text class="n" transform="matrix(1.36 0 0 1 690 476)">.97</text>
<text class="n" transform="matrix(1.36 0 0 1 695 484)">.95</text>
<text class="n" transform="matrix(1.36 0 0 1 693 494)">1.00</text>
<text class="n" transform="matrix(1.36 0 0 1 788 428)">1</text><text class="n" transform="matrix(1.36 0 0 1 780 445)">1</text><text class="n" transform="matrix(1.36 0 0 1 788 461)">1</text><text class="n" transform="matrix(1.36 0 0 1 790 479)">1</text><text class="n" transform="matrix(1.36 0 0 1 782 496)">1</text><text class="n" transform="matrix(1.36 0 0 1 782 513)">1</text>
<text class="n" transform="matrix(1.36 0 0 1 820 424)">.25</text><text class="n" transform="matrix(1.36 0 0 1 822 437)">.25</text><text class="n" transform="matrix(1.36 0 0 1 822 456)">.31</text><text class="n" transform="matrix(1.36 0 0 1 820 473)">.30</text><text class="n" transform="matrix(1.36 0 0 1 820 490)">.30</text><text class="n" transform="matrix(1.36 0 0 1 820 507)">.25</text>
</g>
<g id="fit">
<text class="st" transform="matrix(1.36 0 0 1 783 30.5)">Chi-square/df=1.194</text>
<text class="st" transform="matrix(1.36 0 0 1 783 52.5)">GFI=.893</text>
<text class="st" transform="matrix(1.36 0 0 1 783 74.5)">CFI=.980</text>
<text class="st" transform="matrix(1.36 0 0 1 783 96.5)">TLI=.979</text>
<text class="st" transform="matrix(1.36 0 0 1 783 118.5)">RMSEA=.020</text>
<text class="st" transform="matrix(1.36 0 0 1 783 140.5)">PCLOSE=1.000</text>
</g>
</svg>
